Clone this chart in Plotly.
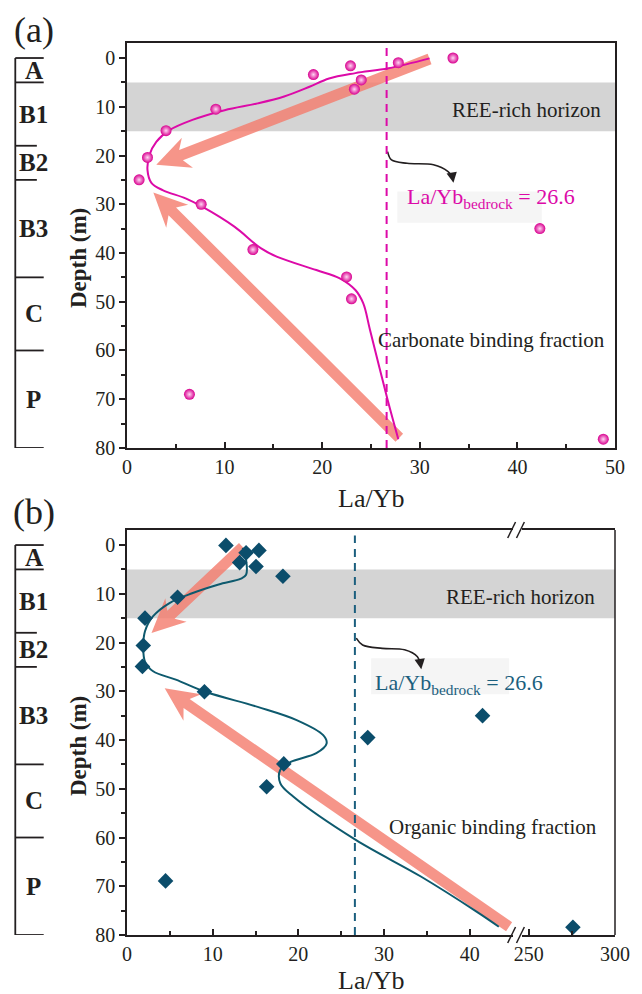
import math
import plotly.graph_objects as go

# ---------------- data ----------------
# (a) carbonate binding fraction
carb_x = [33.4, 27.8, 22.9, 19.1, 24.0, 23.3, 9.1, 4.0, 2.1, 1.24, 7.6, 42.3, 12.9, 22.5, 23.0, 6.4, 48.8]
carb_y = [0.0, 0.96, 1.6, 3.4, 4.5, 6.4, 10.5, 14.9, 20.4, 25.0, 30.0, 35.0, 39.3, 44.9, 49.4, 69.0, 78.2]
carb_trend_x = [31.0, 26.8, 23.4, 20.7, 18.7, 16.1, 13.4, 10.0, 6.7, 4.35, 3.0, 2.3, 2.1, 2.5, 3.65,
                6.0, 7.7, 11.0, 13.7, 15.4, 19.4, 21.8, 23.4, 24.2, 24.9, 26.7, 27.8]
carb_trend_y = [0.07, 2.1, 3.1, 4.2, 5.9, 7.9, 9.3, 10.7, 12.7, 14.8, 17.2, 19.9, 23.0, 25.6, 27.1,
                28.8, 30.5, 34.6, 39.0, 40.8, 43.5, 45.2, 47.6, 50.3, 55.8, 70.1, 78.2]

# (b) organic binding fraction (last sample on the broken axis segment)
org_x = [11.55, 13.9, 15.4, 13.15, 15.06, 18.2, 5.9, 2.1, 1.9, 1.8, 9.04, 41.5, 28.1, 18.3, 16.3, 4.5]
org_y = [0.07, 1.6, 1.1, 3.6, 4.4, 6.4, 10.7, 15.0, 20.6, 24.9, 30.1, 35.0, 39.5, 44.9, 49.6, 68.9]
org_far_x = [275.6]
org_far_y = [78.4]
org_trend_x = [13.5, 13.9, 13.9, 13.3, 10.7, 7.6, 4.96, 3.05, 2.1, 1.9, 2.1, 3.05, 5.7, 9.15, 15.25,
               19.8, 22.9, 23.3, 22.1, 19.1, 17.9, 17.9, 19.4, 26.7, 34.3, 40.8, 43.4]
org_trend_y = [0.6, 3.0, 6.1, 6.9, 8.1, 9.9, 11.9, 14.6, 17.7, 21.1, 23.9, 25.9, 27.6, 30.1, 33.2,
               35.9, 39.0, 40.7, 42.7, 44.5, 46.1, 48.9, 51.6, 60.5, 68.0, 75.2, 78.3]

bedrock_ratio = 26.6
ree_top, ree_bottom = 5, 15

# soil profile horizons: name, top, bottom (m)
horizons = ["A", "B1", "B2", "B3", "C", "P"]
horizon_tops = [0, 5, 18, 25, 45, 60]
horizon_bottoms = [5, 18, 25, 45, 60, 80]

# trend arrows: (tail, tip) in La/Yb, depth
carb_arrows = [((31.0, 0.2), (3.0, 21.9)), ((27.9, 77.9), (2.7, 27.6))]
org_arrows = [((13.5, 0.4), (2.86, 18.05)), ((44.6, 78.3), (4.4, 29.4))]

# curved pointers from the bedrock line to its label
carb_ptr_x = [26.7, 27.1, 28.7, 31.4, 32.9, 33.3]
carb_ptr_y = [19.2, 20.9, 21.6, 21.9, 23.3, 24.3]
org_ptr_x = [26.76, 27.5, 29.8, 32.4, 33.9, 34.2]
org_ptr_y = [19.1, 20.5, 21.2, 21.5, 22.9, 24.2]

# ---------------- style ----------------
FONT = "Liberation Serif"
INK = "#231f20"
MAG = "#dc0aa8"
MAG_PT = "#d8008f"
TEAL = "#0e5a6e"
TEAL_PT = "#0b4d6b"
SALMON = "#f47a6c"

W, H = 642, 994
ML, MR, MT, MB = 127, 17, 43, 59
PW = W - ML - MR
PH = H - MT - MB

YR = [80, -3.08]
DOM_A = [0.546, 1.0]
DOM_B = [0.0, 0.454]
X2_DOM = [0.0, 0.79]
X3_DOM = [0.81, 1.0]


def px_x(px):
    """Figure pixel column -> paper x."""
    return (px - ML) / PW


def px_y(py):
    """Figure pixel row (from top) -> paper y."""
    return (H - MB - py) / PH


fig = go.Figure()


def arrow_path(tail, tip, sx, sy, shaft=11.0, head_len=34.0, head_w=32.0, notch=7.0):
    tx, ty = tail[0] * sx, tail[1] * sy
    px, py = tip[0] * sx, tip[1] * sy
    dx, dy = px - tx, py - ty
    L = math.hypot(dx, dy)
    ux, uy = dx / L, dy / L
    nx, ny = -uy, ux
    bx, by = px - ux * head_len, py - uy * head_len
    jx, jy = px - ux * (head_len - notch), py - uy * (head_len - notch)
    pts = [
        (tx + nx * shaft / 2, ty + ny * shaft / 2),
        (jx + nx * shaft / 2, jy + ny * shaft / 2),
        (bx + nx * head_w / 2, by + ny * head_w / 2),
        (px, py),
        (bx - nx * head_w / 2, by - ny * head_w / 2),
        (jx - nx * shaft / 2, jy - ny * shaft / 2),
        (tx - nx * shaft / 2, ty - ny * shaft / 2),
    ]
    return "M" + " L".join(f"{x / sx:.4f},{y / sy:.4f}" for x, y in pts) + " Z"


shapes = []
annotations = []


def label(text, x, y, xref="paper", yref="paper", size=21, color=INK, **kw):
    d = dict(text=text, x=x, y=y, xref=xref, yref=yref, showarrow=False,
             xanchor=kw.pop("xanchor", "center"), yanchor=kw.pop("yanchor", "middle"),
             font=dict(family=FONT, size=size, color=color))
    d.update(kw)
    annotations.append(d)


panels = [
    dict(xr="x", yr="y", xlen=50.0, xdom=[0, 1], ydom=DOM_A, arrows=carb_arrows),
    dict(xr="x2", yr="y2", xlen=45.0, xdom=X2_DOM, ydom=DOM_B, arrows=org_arrows),
]
for p in panels:
    # REE-rich horizon band
    shapes.append(dict(type="rect", xref="paper", yref=p["yr"], x0=0, x1=1, y0=ree_top, y1=ree_bottom,
                       fillcolor="#d4d4d4", line_width=0, layer="below"))
    sx = PW * (p["xdom"][1] - p["xdom"][0]) / p["xlen"]
    sy = PH * (p["ydom"][1] - p["ydom"][0]) / (YR[0] - YR[1])
    for tail, tip in p["arrows"]:
        shapes.append(dict(type="path", xref=p["xr"], yref=p["yr"], path=arrow_path(tail, tip, sx, sy),
                           fillcolor=SALMON, opacity=0.8, line_width=0, layer="below"))

# faint label boxes behind the bedrock ratio labels
shapes.append(dict(type="rect", xref="x", yref="y", x0=27.7, x1=42.5, y0=27.4, y1=33.8,
                   fillcolor="#f5f5f5", line_width=0, layer="below"))
shapes.append(dict(type="rect", xref="x2", yref="y2", x0=28.5, x1=44.6, y0=23.2, y1=30.6,
                   fillcolor="#f5f5f5", line_width=0, layer="below"))

# bedrock reference lines
shapes.append(dict(type="line", xref="x", yref="paper", x0=bedrock_ratio, x1=bedrock_ratio,
                   y0=DOM_A[0], y1=DOM_A[1], line=dict(color=MAG, width=2, dash="8px,6px")))
shapes.append(dict(type="line", xref="x2", yref="paper", x0=bedrock_ratio, x1=bedrock_ratio,
                   y0=DOM_B[0], y1=DOM_B[1] - 0.006, line=dict(color="#1b5f7e", width=2, dash="8px,6px")))

# right border of panel (b)
shapes.append(dict(type="line", xref="paper", yref="paper", x0=1, x1=1, y0=DOM_B[0], y1=DOM_B[1],
                   line=dict(color=INK, width=1.5)))

# axis break marks on panel (b)
for yb in (DOM_B[0], DOM_B[1]):
    for px in (519.5, 528.5):
        xp = px_x(px)
        dxp = 4 / PW
        dyp = 8 / PH
        shapes.append(dict(type="line", xref="paper", yref="paper", x0=xp - dxp, x1=xp + dxp,
                           y0=yb - dyp, y1=yb + dyp, line=dict(color=INK, width=1.5)))

# soil profile columns
col_x = px_x(13)
long_x = px_x(42)
short_x = px_x(35)
lab_x = px_x(32)
for yr in ("y", "y2"):
    shapes.append(dict(type="line", xref="paper", yref=yr, x0=col_x, x1=col_x, y0=0, y1=80,
                       line=dict(color=INK, width=1.8)))
    bounds = sorted(set(horizon_tops + horizon_bottoms))
    for b in bounds:
        x1 = short_x if b in (18, 25) else long_x
        shapes.append(dict(type="line", xref="paper", yref=yr, x0=col_x, x1=x1, y0=b, y1=b,
                           line=dict(color=INK, width=1.8)))
    for name, t, bt in zip(horizons, horizon_tops, horizon_bottoms):
        label(f"<b>{name}</b>", lab_x, (t + bt) / 2, yref=yr, size=25)

# ---------------- traces ----------------
fig.add_trace(go.Scatter(x=carb_trend_x, y=carb_trend_y, xaxis="x", yaxis="y", mode="lines",
                         line=dict(color=MAG, width=2, shape="spline", smoothing=1.0),
                         hoverinfo="skip", showlegend=False))
fig.add_trace(go.Scatter(x=carb_x, y=carb_y, xaxis="x", yaxis="y", mode="markers",
                         marker=dict(size=11, color=MAG_PT, gradient=dict(type="radial", color="#ffd6f2"),
                                     line=dict(width=0)),
                         showlegend=False))
fig.add_trace(go.Scatter(x=carb_ptr_x, y=carb_ptr_y, xaxis="x", yaxis="y", mode="lines",
                         line=dict(color=INK, width=1.6, shape="spline"), hoverinfo="skip", showlegend=False))

fig.add_trace(go.Scatter(x=org_trend_x, y=org_trend_y, xaxis="x2", yaxis="y2", mode="lines",
                         line=dict(color=TEAL, width=2, shape="spline", smoothing=1.0),
                         hoverinfo="skip", showlegend=False))
fig.add_trace(go.Scatter(x=org_x, y=org_y, xaxis="x2", yaxis="y2", mode="markers",
                         marker=dict(size=12, symbol="diamond", color=TEAL_PT, line=dict(width=0)),
                         showlegend=False))
fig.add_trace(go.Scatter(x=org_far_x, y=org_far_y, xaxis="x3", yaxis="y2", mode="markers",
                         marker=dict(size=12, symbol="diamond", color=TEAL_PT, line=dict(width=0)),
                         cliponaxis=False, showlegend=False))
fig.add_trace(go.Scatter(x=org_ptr_x, y=org_ptr_y, xaxis="x2", yaxis="y2", mode="lines",
                         line=dict(color=INK, width=1.6, shape="spline"), hoverinfo="skip", showlegend=False))

# pointer heads
for xr, yr, px, py in (("x", "y", carb_ptr_x, carb_ptr_y), ("x2", "y2", org_ptr_x, org_ptr_y)):
    annotations.append(dict(x=px[-1] + 0.15, y=py[-1] + 1.3, xref=xr, yref=yr, ax=px[-1], ay=py[-1] - 0.4,
                            axref=xr, ayref=yr, showarrow=True, arrowhead=2, arrowsize=1.3,
                            arrowwidth=1.6, arrowcolor=INK, text=""))

# ---------------- text ----------------
label("REE-rich horizon", px_x(535), 10.6, yref="y")
label("REE-rich horizon", px_x(529), 10.6, yref="y2")
label("Carbonate binding fraction", px_x(499), 57.8, yref="y")
label("Organic binding fraction", px_x(501), 57.8, yref="y2")
label("La/Yb<sub>bedrock</sub> = 26.6", 28.5, 28.7, xref="x", yref="y", color=MAG, xanchor="left", size=22)
label("La/Yb<sub>bedrock</sub> = 26.6", 28.7, 28.5, xref="x2", yref="y2", color="#1b5f7e", xanchor="left",
      size=22)
label("(a)", px_x(32), px_y(30), size=36)
label("(b)", px_x(32), px_y(512), size=36)
label("La/Yb", 0.5, px_y(498), size=26)
label("La/Yb", 0.5, px_y(980), size=26)
label("<b>Depth (m)</b>", px_x(77), px_y(258), size=23, textangle=-90)
label("<b>Depth (m)</b>", px_x(77), px_y(746), size=23, textangle=-90)

axis_common = dict(showline=True, linecolor=INK, linewidth=1.5, ticklen=6, tickwidth=1.5,
                   tickcolor=INK, showgrid=False, zeroline=False,
                   tickfont=dict(family=FONT, size=20, color=INK))
x_minor = dict(ticks="inside", ticklen=4, tickwidth=1.5, tickcolor=INK, showgrid=False)
y_minor = dict(ticks="outside", ticklen=4, tickwidth=1.5, tickcolor=INK, showgrid=False)

fig.update_layout(
    width=W, height=H, margin=dict(l=ML, r=MR, t=MT, b=MB),
    paper_bgcolor="white", plot_bgcolor="white", showlegend=False,
    xaxis=dict(**axis_common, ticks="inside", domain=[0, 1], anchor="y", range=[0, 50], dtick=10, tick0=0,
               mirror=True, minor=dict(**x_minor, dtick=5)),
    yaxis=dict(**axis_common, ticks="outside", domain=DOM_A, anchor="x", range=YR, dtick=10, tick0=0,
               mirror=True, minor=dict(**y_minor, dtick=5)),
    xaxis2=dict(**axis_common, ticks="inside", domain=X2_DOM, anchor="y2", range=[0, 45], dtick=10, tick0=0,
                mirror=True, minor=dict(**x_minor, dtick=5)),
    xaxis3=dict(**axis_common, ticks="inside", domain=X3_DOM, anchor="y2", range=[246.25, 300], dtick=50,
                tick0=0, mirror=True, minor=dict(**x_minor, dtick=25, tick0=0)),
    yaxis2=dict(**axis_common, ticks="outside", domain=DOM_B, anchor="x2", range=YR, dtick=10, tick0=0,
                minor=dict(**y_minor, dtick=5)),
    shapes=shapes,
    annotations=annotations,
)

fig.write_html("out.html")
